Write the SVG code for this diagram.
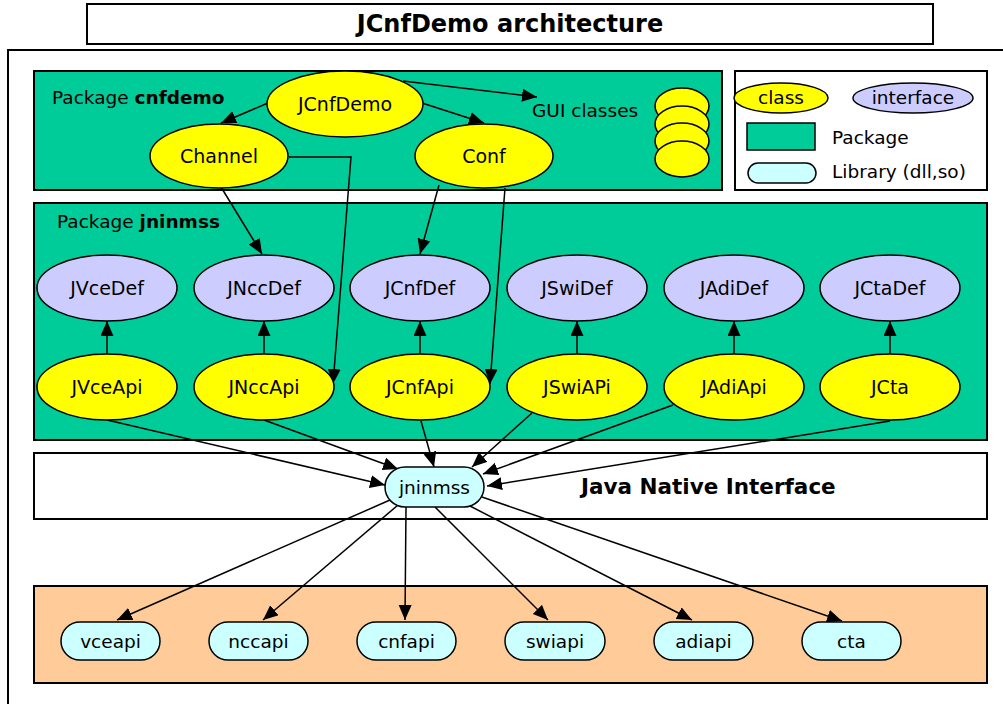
<svg xmlns="http://www.w3.org/2000/svg" width="1003" height="704" viewBox="0 0 1003 704">
  <style>
    text { font-family: "DejaVu Sans", "Liberation Sans", sans-serif; fill: #000; }
    .lbl { font-size: 19px; text-anchor: middle; }
    .small { font-size: 18.5px; }
    .bold { font-weight: bold; }
    .frame { fill: #fff; stroke: #000; stroke-width: 2; }
    .pkg { fill: #00CC99; stroke: #000; stroke-width: 2; }
    .native { fill: #FFCC99; stroke: #000; stroke-width: 2; }
    .cls { fill: #FFFF00; stroke: #000; stroke-width: 1.5; }
    .ifc { fill: #CCCCFF; stroke: #000; stroke-width: 1.5; }
    .lib { fill: #CCFFFF; stroke: #000; stroke-width: 1.5; }
    .edge { fill: none; stroke: #000; stroke-width: 1.5; marker-end: url(#head); }
  </style>
  <defs>
    <marker id="head" markerUnits="userSpaceOnUse" markerWidth="16" markerHeight="14" refX="15" refY="6.5" orient="auto">
      <path d="M0,0 L15,6.5 L0,13 z" fill="#000"/>
    </marker>
  </defs>

  <!-- page frames -->
  <rect x="8" y="50" width="1010" height="670" class="frame"/>
  <g id="title">
    <rect x="87" y="4" width="846" height="40" class="frame"/>
    <text x="510" y="32" class="bold" style="font-size:24px;text-anchor:middle">JCnfDemo architecture</text>
  </g>

  <!-- containers -->
  <g id="pkg-cnfdemo">
    <rect x="34" y="71" width="688" height="119" class="pkg"/>
    <text x="52" y="104" class="small">Package <tspan class="bold">cnfdemo</tspan></text>
  </g>
  <g id="pkg-jninmss">
    <rect x="34" y="203" width="953" height="237" class="pkg"/>
    <text x="57" y="228" class="small">Package <tspan class="bold">jninmss</tspan></text>
  </g>
  <g id="jni-layer">
    <rect x="34" y="453" width="953" height="66" class="frame"/>
    <text x="581" y="494" class="bold" style="font-size:21.5px">Java Native Interface</text>
  </g>
  <g id="native-layer">
    <rect x="34" y="586" width="953" height="97" class="native"/>
  </g>

  <!-- legend -->
  <g id="legend">
    <rect x="735" y="71" width="252" height="119" class="frame"/>
    <ellipse cx="781" cy="98" rx="47" ry="15" class="cls"/>
    <text x="781" y="104" class="small" style="text-anchor:middle">class</text>
    <ellipse cx="913" cy="98" rx="60" ry="15" class="ifc"/>
    <text x="913" y="104" class="small" style="text-anchor:middle">interface</text>
    <rect x="747" y="123" width="68" height="27" class="pkg" style="stroke-width:1.5"/>
    <text x="832" y="144" class="small">Package</text>
    <rect x="748" y="163" width="68" height="20" rx="10" class="lib"/>
    <text x="832" y="178" class="small">Library (dll,so)</text>
  </g>

  <!-- connectors -->
  <g id="connectors">
    <line x1="268" y1="103" x2="221" y2="123" class="edge"/>
    <line x1="403" y1="81" x2="537" y2="97" class="edge"/>
    <line x1="422" y1="103" x2="484" y2="123" class="edge"/>
    <line x1="221" y1="187" x2="262" y2="254" class="edge"/>
    <polyline points="289,157 351,157 333,384" class="edge"/>
    <line x1="439" y1="185" x2="420" y2="254" class="edge"/>
    <line x1="505" y1="188" x2="490" y2="384" class="edge"/>

    <line x1="107" y1="354" x2="107" y2="321" class="edge"/>
    <line x1="264" y1="354" x2="264" y2="321" class="edge"/>
    <line x1="420" y1="354" x2="420" y2="321" class="edge"/>
    <line x1="577" y1="354" x2="577" y2="321" class="edge"/>
    <line x1="734" y1="354" x2="734" y2="321" class="edge"/>
    <line x1="890" y1="354" x2="890" y2="321" class="edge"/>

    <line x1="107" y1="420" x2="385" y2="485" class="edge"/>
    <line x1="264" y1="420" x2="398" y2="469" class="edge"/>
    <line x1="421" y1="421" x2="434" y2="467" class="edge"/>
    <line x1="532" y1="413" x2="472" y2="467" class="edge"/>
    <line x1="673" y1="405" x2="483" y2="474" class="edge"/>
    <line x1="890" y1="421" x2="487" y2="486" class="edge"/>

    <line x1="390" y1="500" x2="117" y2="620" class="edge"/>
    <line x1="398" y1="505" x2="263" y2="620" class="edge"/>
    <line x1="406" y1="507" x2="405" y2="620" class="edge"/>
    <line x1="435" y1="507" x2="548" y2="620" class="edge"/>
    <line x1="468" y1="505" x2="692" y2="620" class="edge"/>
    <line x1="482" y1="497" x2="842" y2="621" class="edge"/>
  </g>

  <!-- cnfdemo classes -->
  <g id="JCnfDemo"><ellipse cx="345" cy="104" rx="78" ry="33" class="cls"/><text x="345" y="111" class="lbl">JCnfDemo</text></g>
  <g id="Channel"><ellipse cx="219" cy="156" rx="69" ry="32" class="cls"/><text x="219" y="163" class="lbl">Channel</text></g>
  <g id="Conf"><ellipse cx="484" cy="156" rx="69" ry="32" class="cls"/><text x="484" y="163" class="lbl">Conf</text></g>
  <g id="gui-classes">
    <text x="532" y="117" class="small">GUI classes</text>
    <ellipse cx="682" cy="106" rx="27" ry="18" class="cls"/>
    <ellipse cx="682" cy="124" rx="27" ry="18" class="cls"/>
    <ellipse cx="682" cy="141" rx="27" ry="18" class="cls"/>
    <ellipse cx="682" cy="159" rx="27" ry="18" class="cls"/>
  </g>

  <!-- jninmss interfaces -->
  <g id="JVceDef"><ellipse cx="107" cy="288" rx="70" ry="33" class="ifc"/><text x="107" y="295" class="lbl">JVceDef</text></g>
  <g id="JNccDef"><ellipse cx="264" cy="288" rx="70" ry="33" class="ifc"/><text x="264" y="295" class="lbl">JNccDef</text></g>
  <g id="JCnfDef"><ellipse cx="420" cy="288" rx="70" ry="33" class="ifc"/><text x="420" y="295" class="lbl">JCnfDef</text></g>
  <g id="JSwiDef"><ellipse cx="577" cy="288" rx="70" ry="33" class="ifc"/><text x="577" y="295" class="lbl">JSwiDef</text></g>
  <g id="JAdiDef"><ellipse cx="734" cy="288" rx="70" ry="33" class="ifc"/><text x="734" y="295" class="lbl">JAdiDef</text></g>
  <g id="JCtaDef"><ellipse cx="890" cy="288" rx="70" ry="33" class="ifc"/><text x="890" y="295" class="lbl">JCtaDef</text></g>

  <!-- jninmss classes -->
  <g id="JVceApi"><ellipse cx="107" cy="387" rx="70" ry="33" class="cls"/><text x="107" y="394" class="lbl">JVceApi</text></g>
  <g id="JNccApi"><ellipse cx="264" cy="387" rx="70" ry="33" class="cls"/><text x="264" y="394" class="lbl">JNccApi</text></g>
  <g id="JCnfApi"><ellipse cx="420" cy="387" rx="70" ry="33" class="cls"/><text x="420" y="394" class="lbl">JCnfApi</text></g>
  <g id="JSwiAPi"><ellipse cx="577" cy="387" rx="70" ry="33" class="cls"/><text x="577" y="394" class="lbl">JSwiAPi</text></g>
  <g id="JAdiApi"><ellipse cx="734" cy="387" rx="70" ry="33" class="cls"/><text x="734" y="394" class="lbl">JAdiApi</text></g>
  <g id="JCta"><ellipse cx="890" cy="387" rx="70" ry="33" class="cls"/><text x="890" y="394" class="lbl">JCta</text></g>

  <!-- JNI library -->
  <g id="jninmss"><rect x="385" y="467" width="99" height="40" rx="20" class="lib"/><text x="434.5" y="494" class="lbl" style="font-size:18.5px">jninmss</text></g>

  <!-- native libraries -->
  <g id="vceapi"><rect x="61" y="622" width="99" height="38" rx="19" class="lib"/><text x="110.5" y="648" class="lbl" style="font-size:18.5px">vceapi</text></g>
  <g id="nccapi"><rect x="209" y="622" width="99" height="38" rx="19" class="lib"/><text x="258.5" y="648" class="lbl" style="font-size:18.5px">nccapi</text></g>
  <g id="cnfapi"><rect x="357" y="622" width="99" height="38" rx="19" class="lib"/><text x="406.5" y="648" class="lbl" style="font-size:18.5px">cnfapi</text></g>
  <g id="swiapi"><rect x="505" y="622" width="100" height="38" rx="19" class="lib"/><text x="555" y="648" class="lbl" style="font-size:18.5px">swiapi</text></g>
  <g id="adiapi"><rect x="654" y="622" width="99" height="38" rx="19" class="lib"/><text x="703.5" y="648" class="lbl" style="font-size:18.5px">adiapi</text></g>
  <g id="cta"><rect x="802" y="622" width="99" height="38" rx="19" class="lib"/><text x="851.5" y="648" class="lbl" style="font-size:18.5px">cta</text></g>
</svg>
